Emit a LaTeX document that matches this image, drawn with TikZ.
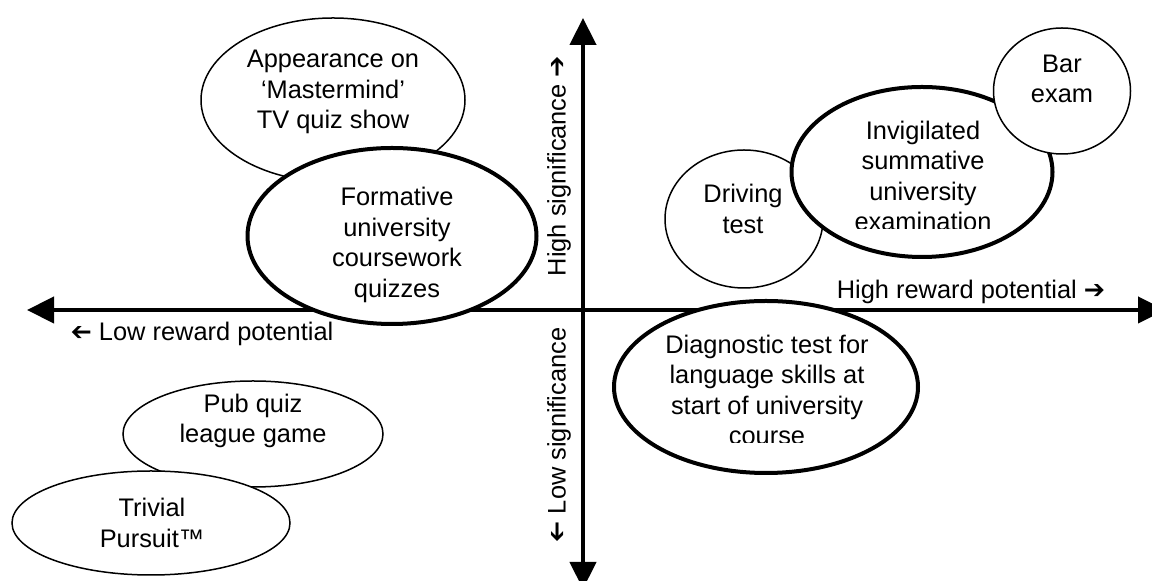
\documentclass[tikz,border=0pt]{standalone}
\usepackage{fontspec}
\setmainfont{Liberation Sans}
\newfontfamily\arrowfont{DejaVu Sans}
\newcommand*{\higharrow}{{\arrowfont ➔}}
\newcommand*{\lowarrow}{\reflectbox{\higharrow}}
\usetikzlibrary{arrows.meta, shapes.geometric}
\tikzstyle{axis} = [line width=2.2pt, {Triangle[length=13.5pt, width=13pt]}-{Triangle[length=13.5pt, width=13pt]}]
\tikzstyle{bubble} = [draw, ellipse, fill=white, line width=0.75pt, inner sep=0pt]
\tikzstyle{key} = [bubble, line width=2pt]
\tikzstyle{blurb} = [align=center, inner sep=0pt, font=\fontsize{12.7}{15.2}\selectfont]

\begin{document}
\begin{tikzpicture}[x=0.5pt, y=-0.5pt]
    \useasboundingbox (0,0) rectangle (1152,581);

    % Axis ends.
    \coordinate (west) at (27,310);
    \coordinate (east) at (1165,310);
    \coordinate (north) at (583,18);
    \coordinate (south) at (583,589);

    % Axes.
    \draw [axis] (west) -- (east);
    \draw [axis] (south) -- (north);

    % Axis captions.
    \node (low reward) [blurb] at (202,334) {\lowarrow\ Low reward potential};
    \node (high reward) [blurb] at (971,292) {High reward potential \higharrow};
    \node (high sig) [blurb, rotate=90] at (559,166) {High significance \higharrow};
    \node (low sig) [blurb, rotate=90] at (559,435) {\lowarrow\ Low significance};

    % Upper left quarter.
    \node (appear) [bubble, minimum width=132pt, minimum height=82pt] at (333,100) {};
    \node (appear text) [blurb] at (333,92) {Appearance on\\‘Mastermind’\\TV quiz show};
    \node (formative) [key, minimum width=144.5pt, minimum height=88pt] at (392,236) {};
    \node (formative text) [blurb] at (397,245) {Formative\\university\\coursework\\quizzes};

    % Upper right quarter.
    \node (driving) [bubble, minimum width=79pt, minimum height=69pt] at (744,219) {};
    \node (driving text) [blurb] at (743,209) {Driving\\test};
    \node (invig) [key, minimum width=130.5pt, minimum height=85pt] at (922,172) {};
    \begin{scope}
        \clip (780,100) rectangle (1060,229);
        \node (invig text) [blurb] at (923,176) {Invigilated\\summative\\university\\examination};
    \end{scope}
    \node (bar) [bubble, minimum width=68.5pt, minimum height=63pt] at (1062,91) {};
    \node (bar text) [blurb] at (1062,79) {Bar\\exam};

    % Lower right quarter.
    \node (diag) [key, minimum width=152pt, minimum height=86pt] at (766,387) {};
    \begin{scope}
        \clip (620,320) rectangle (915,443);
        \node (diag text) [blurb] at (767,390) {Diagnostic test for\\language skills at\\start of university\\course};
    \end{scope}

    % Lower left quarter.
    \node (pub) [bubble, minimum width=130pt, minimum height=53pt] at (253,434) {};
    \node (pub text) [blurb] at (253,421) {Pub quiz\\league game};
    \node (trivial) [bubble, minimum width=139pt, minimum height=52pt] at (151,523) {};
    \node (trivial text) [blurb] at (152,523) {Trivial\\Pursuit™};
\end{tikzpicture}
\end{document}
